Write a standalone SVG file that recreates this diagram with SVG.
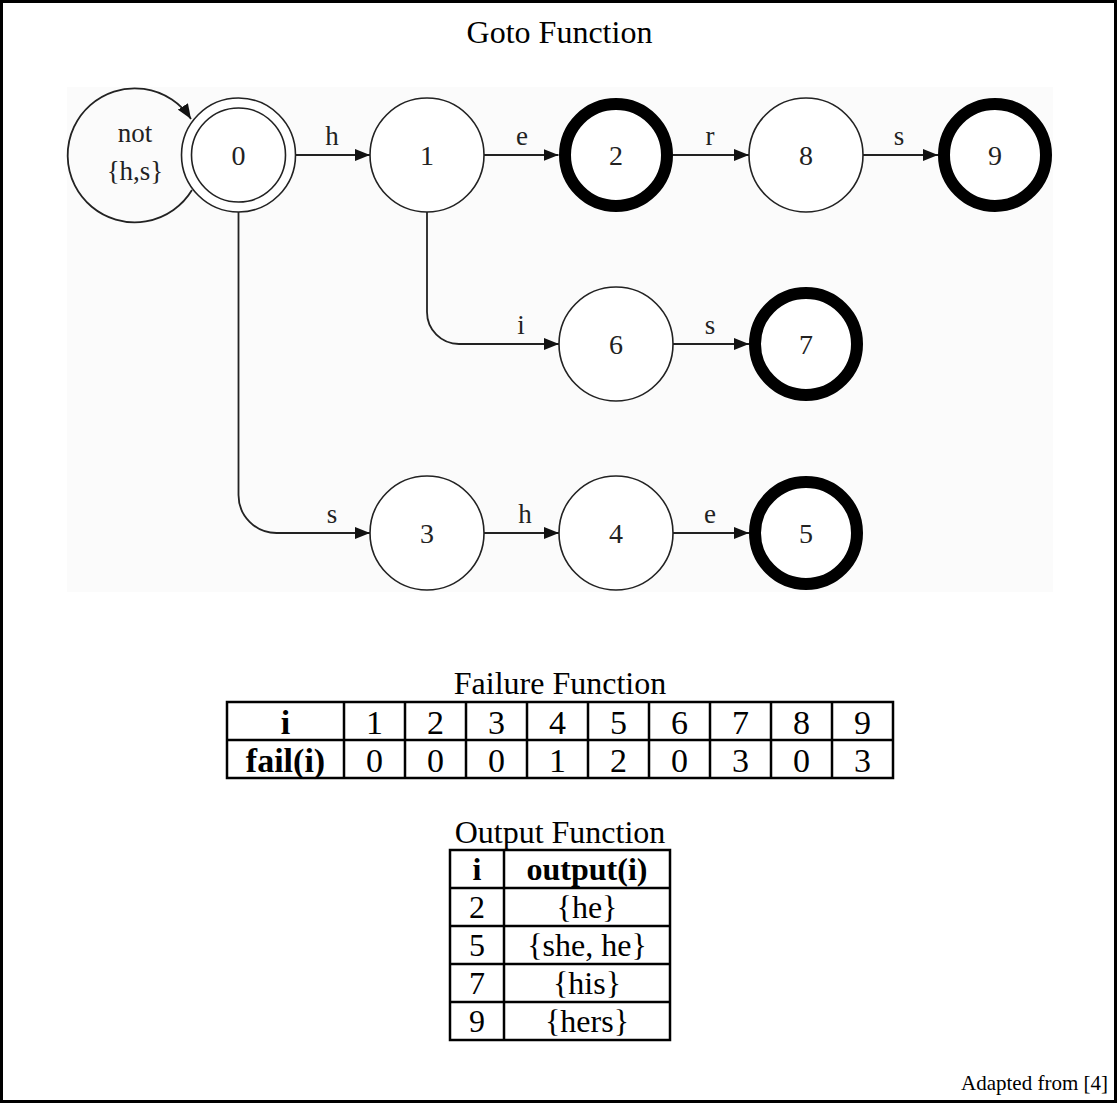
<svg xmlns="http://www.w3.org/2000/svg" width="1117" height="1103" viewBox="0 0 1117 1103">
  <style>
    .serif { font-family: "Liberation Serif", "Times New Roman", serif; fill: #000; }
    .title { font-size: 32px; text-anchor: middle; }
    .state { fill: #fff; stroke: #222; stroke-width: 1.6; }
    .final { fill: #fff; stroke: #000; stroke-width: 12; }
    .num { font-size: 28px; text-anchor: middle; fill: #222; }
    .lbl { font-size: 27px; text-anchor: middle; fill: #222; }
    .edge { fill: none; stroke: #222; stroke-width: 1.8; marker-end: url(#arrow); }
    .grid { fill: none; stroke: #000; stroke-width: 2.5; }
    .cell { font-size: 32px; text-anchor: middle; }
    .fcell { font-size: 34px; text-anchor: middle; }
    .bold { font-weight: bold; }
  </style>
  <defs>
    <marker id="arrow" markerUnits="userSpaceOnUse" markerWidth="15" markerHeight="12" refX="15" refY="6" orient="auto">
      <path d="M0,0 L15,6 L0,12 z" fill="#111"/>
    </marker>
  </defs>

  <!-- page frame -->
  <rect x="1.5" y="1.5" width="1114" height="1100" fill="#fff" stroke="#000" stroke-width="3"/>

  <text class="serif title" x="559.5" y="43">Goto Function</text>

  <!-- goto graph canvas -->
  <rect x="67" y="87" width="986" height="505" fill="#fbfbfb"/>

  <g id="connectors">
    <!-- self loop on state 0 for every symbol other than h, s -->
    <path class="edge" d="M192,190 A67,67 0 1 1 191,119"/>
    <path class="edge" d="M295.5,155 H370"/>
    <path class="edge" d="M484,155 H558.5"/>
    <path class="edge" d="M673,155 H749"/>
    <path class="edge" d="M863,155 H938"/>
    <path class="edge" d="M427,212 V312 A32,32 0 0 0 459,344 H559"/>
    <path class="edge" d="M673,344 H749"/>
    <path class="edge" d="M238.5,212 V495 A38,38 0 0 0 276.5,533 H370"/>
    <path class="edge" d="M484,533 H559"/>
    <path class="edge" d="M673,533 H749"/>
  </g>

  <g id="edge-labels">
    <text class="serif lbl" x="135" y="142">not</text>
    <text class="serif lbl" x="135" y="180">{h,s}</text>
    <text class="serif lbl" x="332" y="145">h</text>
    <text class="serif lbl" x="522" y="145">e</text>
    <text class="serif lbl" x="710" y="145">r</text>
    <text class="serif lbl" x="899" y="145">s</text>
    <text class="serif lbl" x="521" y="334">i</text>
    <text class="serif lbl" x="710" y="334">s</text>
    <text class="serif lbl" x="332" y="523">s</text>
    <text class="serif lbl" x="525" y="523">h</text>
    <text class="serif lbl" x="710" y="523">e</text>
  </g>

  <g id="s0">
    <circle class="state" cx="238.5" cy="155" r="57"/>
    <circle class="state" cx="238.5" cy="155" r="47"/>
    <text class="serif num" x="238.5" y="165">0</text>
  </g>
  <g id="s1">
    <circle class="state" cx="427" cy="155" r="57"/>
    <text class="serif num" x="427" y="165">1</text>
  </g>
  <g id="s2">
    <circle class="final" cx="616" cy="155" r="51"/>
    <text class="serif num" x="616" y="165">2</text>
  </g>
  <g id="s8">
    <circle class="state" cx="806" cy="155" r="57"/>
    <text class="serif num" x="806" y="165">8</text>
  </g>
  <g id="s9">
    <circle class="final" cx="995" cy="155" r="51"/>
    <text class="serif num" x="995" y="165">9</text>
  </g>
  <g id="s6">
    <circle class="state" cx="616" cy="344" r="57"/>
    <text class="serif num" x="616" y="354">6</text>
  </g>
  <g id="s7">
    <circle class="final" cx="806" cy="344" r="51"/>
    <text class="serif num" x="806" y="354">7</text>
  </g>
  <g id="s3">
    <circle class="state" cx="427" cy="533" r="57"/>
    <text class="serif num" x="427" y="543">3</text>
  </g>
  <g id="s4">
    <circle class="state" cx="616" cy="533" r="57"/>
    <text class="serif num" x="616" y="543">4</text>
  </g>
  <g id="s5">
    <circle class="final" cx="806" cy="533" r="51"/>
    <text class="serif num" x="806" y="543">5</text>
  </g>

  <!-- failure function table -->
  <g id="failure-table">
    <text class="serif title" x="560" y="694">Failure Function</text>
    <rect class="grid" x="227" y="702" width="666" height="76"/>
    <path class="grid" d="M227,740 H893 M344,702 V778 M405,702 V778 M466,702 V778 M527,702 V778 M588,702 V778 M649,702 V778 M710,702 V778 M771,702 V778 M832,702 V778"/>
    <text class="serif fcell bold" x="285.5" y="734">i</text>
    <text class="serif fcell bold" x="285.5" y="772">fail(i)</text>
    <text class="serif fcell" x="374.5" y="734">1</text>
    <text class="serif fcell" x="435.5" y="734">2</text>
    <text class="serif fcell" x="496.5" y="734">3</text>
    <text class="serif fcell" x="557.5" y="734">4</text>
    <text class="serif fcell" x="618.5" y="734">5</text>
    <text class="serif fcell" x="679.5" y="734">6</text>
    <text class="serif fcell" x="740.5" y="734">7</text>
    <text class="serif fcell" x="801.5" y="734">8</text>
    <text class="serif fcell" x="862.5" y="734">9</text>
    <text class="serif fcell" x="374.5" y="772">0</text>
    <text class="serif fcell" x="435.5" y="772">0</text>
    <text class="serif fcell" x="496.5" y="772">0</text>
    <text class="serif fcell" x="557.5" y="772">1</text>
    <text class="serif fcell" x="618.5" y="772">2</text>
    <text class="serif fcell" x="679.5" y="772">0</text>
    <text class="serif fcell" x="740.5" y="772">3</text>
    <text class="serif fcell" x="801.5" y="772">0</text>
    <text class="serif fcell" x="862.5" y="772">3</text>
  </g>

  <!-- output function table -->
  <g id="output-table">
    <text class="serif title" x="560" y="843">Output Function</text>
    <rect class="grid" x="450" y="850" width="220" height="190"/>
    <path class="grid" d="M504,850 V1040 M450,888 H670 M450,926 H670 M450,964 H670 M450,1002 H670"/>
    <text class="serif cell bold" x="477" y="880">i</text>
    <text class="serif cell bold" x="587" y="880">output(i)</text>
    <text class="serif cell" x="477" y="918">2</text>
    <text class="serif cell" x="587" y="918">{he}</text>
    <text class="serif cell" x="477" y="956">5</text>
    <text class="serif cell" x="587" y="956">{she, he}</text>
    <text class="serif cell" x="477" y="994">7</text>
    <text class="serif cell" x="587" y="994">{his}</text>
    <text class="serif cell" x="477" y="1032">9</text>
    <text class="serif cell" x="587" y="1032">{hers}</text>
  </g>

  <text class="serif" x="1108" y="1090" font-size="21" text-anchor="end">Adapted from [4]</text>
</svg>
